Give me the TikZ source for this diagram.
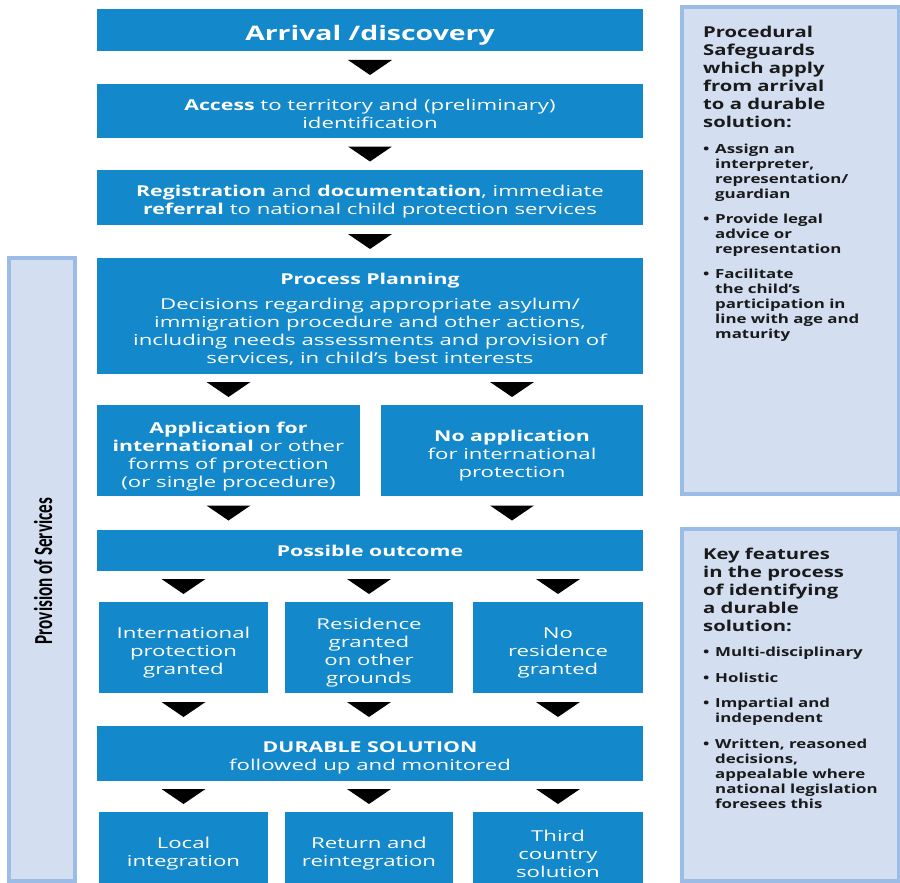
\documentclass[tikz,border=0pt]{standalone}
\usepackage{fontspec}
\setmainfont{Open Sans}[FakeStretch=1.35]
\newfontfamily\stagefont{Open Sans}[FakeStretch=1.48, BoldFeatures={FakeStretch=1.42}]
\newfontfamily\sidefont{Carlito}[FakeStretch=0.66]
\usetikzlibrary{calc}
\definecolor{stageblue}{HTML}{1388CA}
\definecolor{panelfill}{HTML}{D3DFF1}
\definecolor{panelline}{HTML}{9BBCE6}
\definecolor{paneltext}{HTML}{1A1A1A}
\newcommand{\tri}[3]{\fill ($(#1.south -| #3)!0.5!(#2.north -| #3)$) ++(-22,-7.5) -- ++(44,0) -- ++(-22,15) -- cycle;}
\newcommand{\panelitem}[3]{\node[itemtext] (#1) at (703,#2) {#3};}
\newcommand{\bul}{\makebox[12pt][l]{\textbullet}}
\newcommand{\ind}{\hspace*{12pt}}
\newcommand{\dn}[1]{\rule{0pt}{#1pt}}

\begin{document}
\begin{tikzpicture}[x=1pt,y=-1pt,
    stage/.style={fill=stageblue, text=white, align=center, inner sep=0pt,
      font=\stagefont\fontsize{15}{18}\selectfont},
    wide/.style={stage, minimum width=546pt},
    third/.style={stage, minimum width=169pt, minimum height=91pt},
    panel/.style={fill=panelfill, draw=panelline, line width=4pt},
    paneltitle/.style={anchor=north west, inner sep=0pt, align=left, text=paneltext,
      font=\bfseries\fontsize{15}{18}\selectfont},
    itemtext/.style={anchor=north west, inner sep=0pt, align=left, text=paneltext,
      font=\bfseries\fontsize{12.5}{15}\selectfont}]
    \useasboundingbox (0,0) rectangle (900,883);
    \clip (0,0) rectangle (900,883);
    % side panels
    \draw[panel] (9,258) rectangle (75,881);
    \draw[panel] (682,7) rectangle (899,494);
    \draw[panel] (682,529) rectangle (899,881);
    \node[rotate=90, font=\sidefont\bfseries\fontsize{26}{26}\selectfont] (services) at (43,571) {Provision of Services};
    % stages
    \node[wide, minimum height=42pt, font=\stagefont\bfseries\fontsize{20}{24}\selectfont] (arrival) at (370,30) {\dn{26}Arrival /discovery};
    \node[wide, minimum height=54pt] (access) at (370,111)
      {\dn{17.5}\textbf{Access} to territory and (preliminary)\\identification};
    \node[wide, minimum height=55pt] (regist) at (370,197.5)
      {\dn{19.5}\textbf{Registration} and \textbf{documentation}, immediate\\\textbf{referral} to national child protection services};
    \node[wide, minimum height=116pt] (planning) at (370,316)
      {\dn{17.5}\textbf{Process Planning}\\[7pt]Decisions regarding appropriate asylum/\\immigration procedure and other actions,\\including needs assessments and provision of\\services, in child’s best interests};
    % branch
    \node[stage, minimum width=263pt, minimum height=91pt] (applic) at (228.5,450.5)
      {\dn{23}\textbf{Application for}\\\textbf{international} or other\\forms of protection\\(or single procedure)};
    \node[stage, minimum width=262pt, minimum height=91pt] (noapp) at (512,450.5)
      {\dn{22.5}\textbf{No application}\\for international\\protection};
    \node[wide, minimum height=41pt] (outcome) at (370,550.5) {\dn{13}\textbf{Possible outcome}};
    % outcomes
    \node[third] (intprot) at (183.5,647.5) {\dn{21.5}International\\protection\\granted};
    \node[third, minimum width=168pt] (resid) at (369,647.5) {\dn{21.5}Residence\\granted\\on other\\grounds};
    \node[third, minimum width=170pt] (nores) at (558,647.5) {\dn{21.5}No\\residence\\granted};
    \node[wide, minimum height=55pt] (durable) at (370,753.5)
      {\dn{19.5}\textbf{DURABLE SOLUTION}\\followed up and monitored};
    % solutions
    \node[third, minimum height=78pt] (local) at (183.5,851) {\dn{17.5}Local\\integration};
    \node[third, minimum width=168pt, minimum height=78pt] (returnint) at (369,851) {\dn{17.5}Return and\\reintegration};
    \node[third, minimum width=170pt, minimum height=78pt] (thirdc) at (558,851) {\dn{17.5}Third\\country\\solution};
    % arrows
    \tri{arrival}{access}{access}
    \tri{access}{regist}{regist}
    \tri{regist}{planning}{planning}
    \tri{planning}{applic}{applic}
    \tri{planning}{noapp}{noapp}
    \tri{applic}{outcome}{applic}
    \tri{noapp}{outcome}{noapp}
    \tri{outcome}{intprot}{intprot}
    \tri{outcome}{resid}{resid}
    \tri{outcome}{nores}{nores}
    \tri{intprot}{durable}{intprot}
    \tri{resid}{durable}{resid}
    \tri{nores}{durable}{nores}
    \tri{durable}{local}{local}
    \tri{durable}{returnint}{returnint}
    \tri{durable}{thirdc}{thirdc}
    % safeguards
    \node[paneltitle] (safetitle) at (703,26)
      {Procedural\\Safeguards\\which apply\\from arrival\\to a durable\\solution:};
    \panelitem{safeA}{144}{\bul Assign an\\\ind interpreter,\\\ind representation/\\\ind guardian}
    \panelitem{safeB}{214}{\bul Provide legal\\\ind advice or\\\ind representation}
    \panelitem{safeC}{269}{\bul Facilitate\\\ind the child’s\\\ind participation in\\\ind line with age and\\\ind maturity}
    % key features
    \node[paneltitle] (keytitle) at (703,548)
      {Key features\\in the process\\of identifying\\a durable\\solution:};
    \panelitem{keyA}{647}{\bul Multi-disciplinary}
    \panelitem{keyB}{673}{\bul Holistic}
    \panelitem{keyC}{698}{\bul Impartial and\\\ind independent}
    \panelitem{keyD}{739}{\bul Written, reasoned\\\ind decisions,\\\ind appealable where\\\ind national legislation\\\ind foresees this}
\end{tikzpicture}
\end{document}
